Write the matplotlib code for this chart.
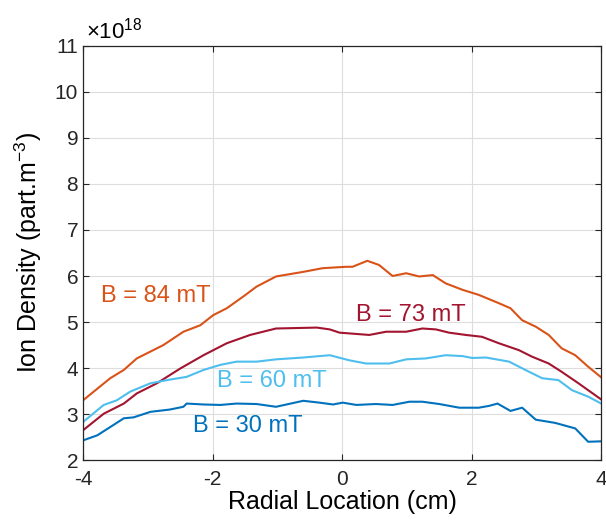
import matplotlib
matplotlib.use('Agg')
import matplotlib.pyplot as plt

plt.rcParams['font.family'] = ['Liberation Sans', 'DejaVu Sans']
plt.rcParams['mathtext.fontset'] = 'custom'
plt.rcParams['mathtext.rm'] = 'Liberation Sans'
plt.rcParams['mathtext.it'] = 'Liberation Sans'
plt.rcParams['axes.unicode_minus'] = False

# ion density (x 1e18 part/m^3) vs radial location (cm)
x84 = [-4.0, -3.58, -3.37, -3.17, -2.76, -2.45, -2.19, -1.99, -1.78, -1.53, -1.32, -1.02, -0.6, -0.3,
       0.06, 0.16, 0.39, 0.57, 0.78, 0.99, 1.19, 1.4, 1.6, 1.86, 2.11, 2.42, 2.6, 2.78, 2.99, 3.19,
       3.39, 3.6, 3.8, 4.0]
y84 = [3.30, 3.78, 3.96, 4.21, 4.50, 4.79, 4.93, 5.15, 5.30, 5.55, 5.77, 5.99, 6.09, 6.17,
       6.20, 6.20, 6.33, 6.24, 6.00, 6.06, 5.99, 6.02, 5.84, 5.70, 5.59, 5.41, 5.30, 5.04, 4.90, 4.72,
       4.43, 4.28, 4.03, 3.80]

x73 = [-4.0, -3.68, -3.37, -3.17, -2.86, -2.5, -2.14, -1.78, -1.42, -1.02, -0.39, -0.19, -0.04,
       0.42, 0.68, 0.99, 1.24, 1.45, 1.65, 1.91, 2.16, 2.42, 2.73, 2.93, 3.19, 3.39, 3.65, 3.91, 4.0]
y73 = [2.65, 3.01, 3.23, 3.45, 3.67, 3.99, 4.28, 4.54, 4.72, 4.86, 4.88, 4.84, 4.77,
       4.72, 4.79, 4.79, 4.86, 4.84, 4.77, 4.72, 4.68, 4.54, 4.39, 4.25, 4.10, 3.92, 3.67, 3.41, 3.32]

x60 = [-4.0, -3.68, -3.48, -3.27, -2.96, -2.66, -2.4, -2.14, -1.88, -1.63, -1.32, -1.02, -0.6, -0.19,
       0.11, 0.37, 0.73, 0.99, 1.29, 1.6, 1.86, 2.01, 2.22, 2.58, 2.83, 3.09, 3.34, 3.55, 3.8, 4.0]
y60 = [2.83, 3.20, 3.30, 3.49, 3.67, 3.75, 3.81, 3.96, 4.07, 4.14, 4.14, 4.19, 4.23, 4.28,
       4.17, 4.10, 4.10, 4.19, 4.21, 4.28, 4.26, 4.22, 4.23, 4.14, 3.96, 3.78, 3.74, 3.52, 3.38, 3.23]

x30 = [-4.0, -3.78, -3.58, -3.37, -3.22, -2.96, -2.66, -2.45, -2.4, -2.14, -1.88, -1.63, -1.32, -1.02,
       -0.6, -0.35, -0.14, 0.01, 0.22, 0.52, 0.78, 1.04, 1.24, 1.5, 1.81, 2.11, 2.27, 2.4, 2.6, 2.78,
       2.99, 3.29, 3.6, 3.8, 4.0]
y30 = [2.43, 2.54, 2.72, 2.91, 2.93, 3.05, 3.10, 3.16, 3.23, 3.21, 3.20, 3.23, 3.22, 3.16,
       3.29, 3.25, 3.21, 3.25, 3.20, 3.22, 3.20, 3.27, 3.27, 3.22, 3.14, 3.14, 3.18, 3.23, 3.07, 3.14,
       2.88, 2.81, 2.69, 2.40, 2.41]

c30 = '#0072BD'
c60 = '#4DBEEE'
c73 = '#A2142F'
c84 = '#D95319'

fig = plt.figure(figsize=(6.06, 5.2), dpi=100)
ax = fig.add_axes([0.137, 0.115, 0.855, 0.797])

ax.plot(x84, y84, color=c84, lw=1.5)
ax.plot(x73, y73, color=c73, lw=1.5)
ax.plot(x60, y60, color=c60, lw=1.5)
ax.plot(x30, y30, color=c30, lw=1.5)

ax.text(-2.88, 5.56, 'B = 84 mT', color=c84, fontsize=17, ha='center', va='center')
ax.text(1.06, 5.15, 'B = 73 mT', color=c73, fontsize=17, ha='center', va='center')
ax.text(-1.09, 3.72, 'B = 60 mT', color=c60, fontsize=17, ha='center', va='center')
ax.text(-1.46, 2.74, 'B = 30 mT', color=c30, fontsize=17, ha='center', va='center')

ax.set_xlim(-4, 4)
ax.set_ylim(2, 11)
ax.set_xticks([-4, -2, 0, 2, 4])
ax.set_yticks(range(2, 12))
ax.grid(True, color='#dddddd', lw=0.8)
ax.set_axisbelow(True)
ax.tick_params(direction='in', top=True, right=True, labelsize=15, length=4, colors='#262626')
ax.tick_params(axis='x', pad=7)
for s in ax.spines.values():
    s.set_color('#262626')
    s.set_linewidth(0.9)

ax.set_xlabel('Radial Location (cm)', fontsize=18, labelpad=1)
ax.set_ylabel('Ion Density (part.m$^{-3}$)', fontsize=18, labelpad=8)
ax.text(0.005, 1.005, r'$\times10^{18}$', transform=ax.transAxes, fontsize=16, va='bottom', ha='left')

fig.savefig('out.png', dpi=100)
